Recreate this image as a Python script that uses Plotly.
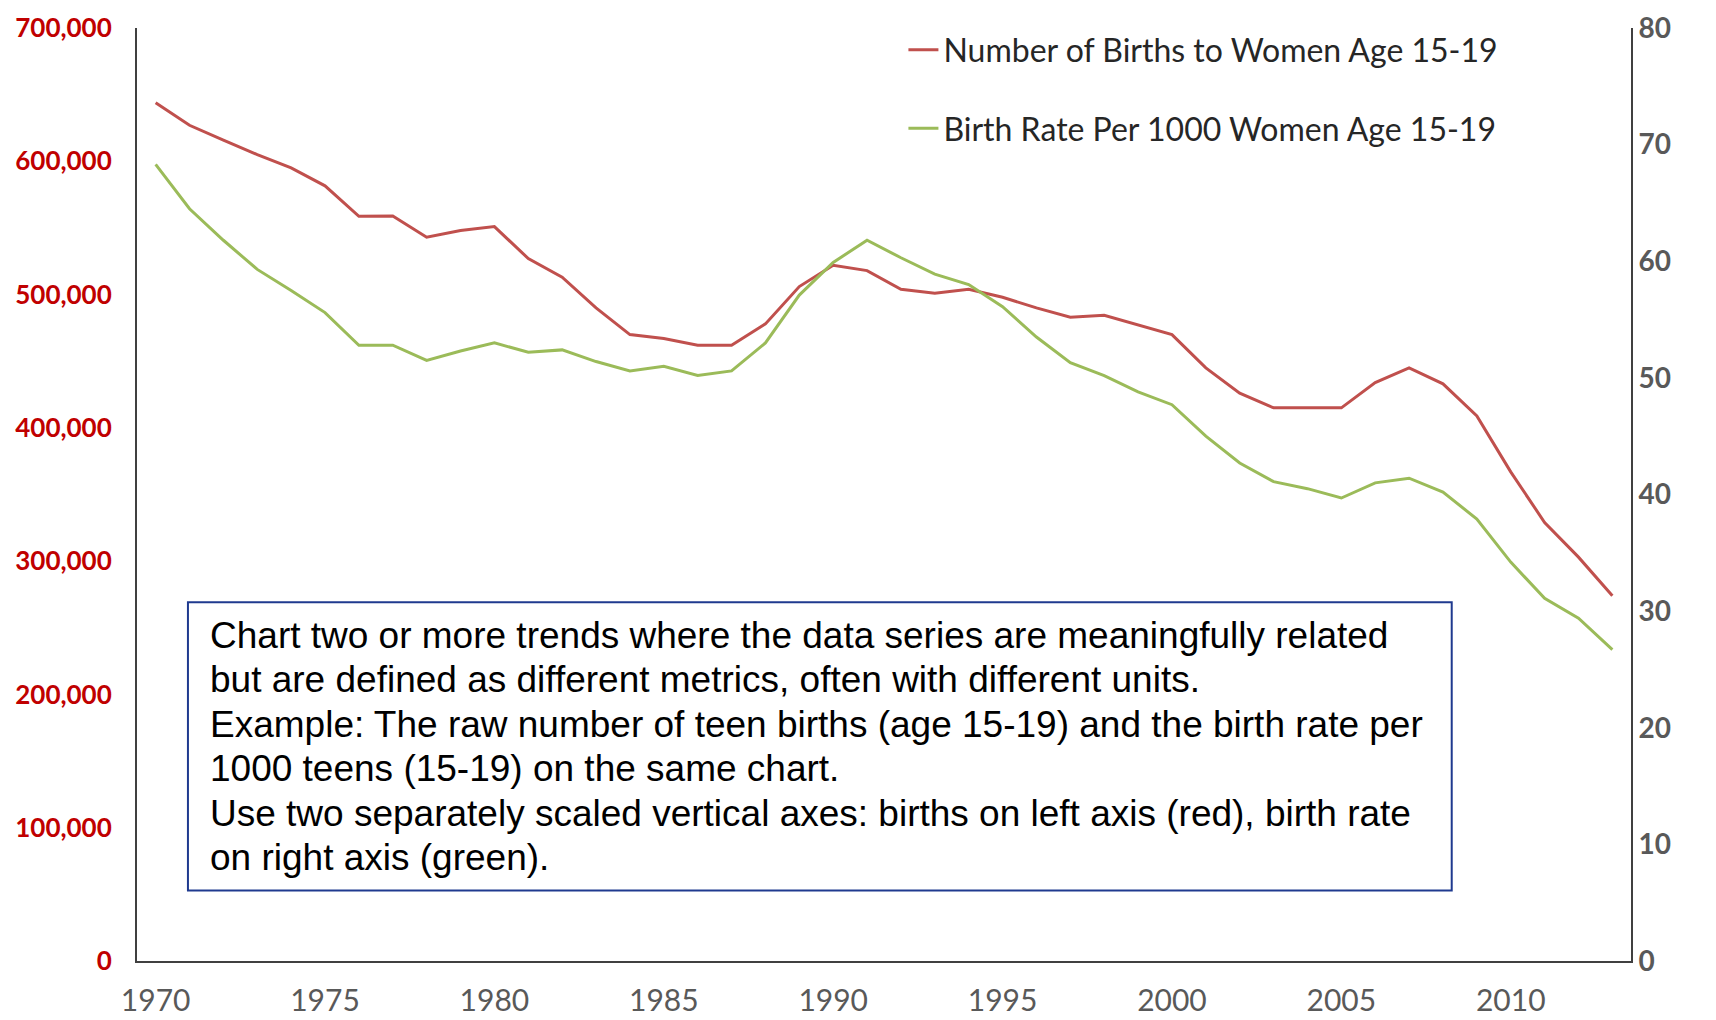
import plotly.graph_objects as go

years = list(range(1970, 2014))
births = [644000, 627000, 615800, 605000, 595000, 581600, 558700, 559000, 543000, 548000,
          551000, 527000, 513000, 490000, 470000, 467000, 462000, 462000, 478000, 506000,
          522000, 518000, 504000, 501000, 504000, 498000, 490000, 483000, 484500, 477000,
          470000, 445000, 426000, 415000, 415000, 415000, 434000, 445000, 433000, 409000,
          367000, 329000, 303000, 274000]
rate = [68.3, 64.5, 61.8, 59.3, 57.5, 55.6, 52.8, 52.8, 51.5, 52.3,
        53.0, 52.2, 52.4, 51.4, 50.6, 51.0, 50.2, 50.6, 53.0, 57.1,
        59.9, 61.8, 60.3, 58.9, 58.0, 56.1, 53.5, 51.3, 50.2, 48.8,
        47.7, 45.0, 42.7, 41.1, 40.5, 39.7, 41.0, 41.4, 40.2, 37.9,
        34.2, 31.1, 29.4, 26.7]

left_ticks = [0, 100000, 200000, 300000, 400000, 500000, 600000, 700000]
right_ticks = [0, 10, 20, 30, 40, 50, 60, 70, 80]
x_ticks = [1970, 1975, 1980, 1985, 1990, 1995, 2000, 2005, 2010]

name_births = "Number of Births to Women Age 15-19"
name_rate = "Birth Rate Per 1000 Women Age 15-19"
note_lines = [
    "Chart two or more trends where the data series are meaningfully related",
    "but are defined as different metrics, often with different units.",
    "Example: The raw number of teen births (age 15-19) and the birth rate per",
    "1000 teens (15-19) on the same chart.",
    "Use two separately scaled vertical axes: births on left axis (red), birth rate",
    "on right axis (green).",
]

RED = "#C0504D"
GREEN = "#9BBB59"
AXIS = "#404040"

fig = go.Figure()
fig.add_trace(go.Scatter(x=years, y=births, name=name_births, mode="lines",
                         line=dict(color=RED, width=3), yaxis="y", legendgroup="a"))
fig.add_trace(go.Scatter(x=years, y=rate, name=name_rate, mode="lines",
                         line=dict(color=GREEN, width=3), yaxis="y2", legendgroup="b"))

fig.update_layout(
    width=1708, height=1012,
    margin=dict(l=129, r=85, t=20, b=59, autoexpand=False),
    paper_bgcolor="white", plot_bgcolor="white",
    showlegend=True,
    legend=dict(x=0.513, y=1.006, xanchor="left", yanchor="top",
                font=dict(family="Lato", size=32, color="#262626"),
                tracegroupgap=34, bgcolor="rgba(0,0,0,0)"),
    xaxis=dict(range=[1969.45, 2013.55], tickvals=x_ticks, ticktext=[str(v) for v in x_ticks],
               showgrid=False, zeroline=False, showline=True, linecolor=AXIS, linewidth=2,
               ticks="", ticklabelstandoff=12, automargin=False, ticklabeloverflow="allow",
               tickfont=dict(family="Lato", size=30, color="#595959")),
    yaxis=dict(range=[0, 700000], tickvals=left_ticks,
               ticktext=[f"{v:,}" for v in left_ticks],
               showgrid=False, zeroline=False, showline=True, linecolor=AXIS, linewidth=2,
               ticks="", ticklabelstandoff=18, automargin=False, ticklabeloverflow="allow",
               tickfont=dict(family="Lato", size=26, color="#C00000", weight="bold")),
    yaxis2=dict(range=[0, 80], tickvals=right_ticks, ticktext=[str(v) for v in right_ticks],
                overlaying="y", side="right",
                showgrid=False, zeroline=False, showline=True, linecolor=AXIS, linewidth=2,
                ticks="", ticklabelstandoff=0, automargin=False, ticklabeloverflow="allow",
                tickfont=dict(family="Lato", size=28, color="#595959", weight="bold")),
)

fig.add_shape(type="rect", xref="paper", yref="paper",
              x0=0.0341, x1=0.880, y0=0.0756, y1=0.3845,
              line=dict(color="#1F3A8F", width=2), fillcolor="white", layer="above")

line_gap = 0.0477
top_line_y = 0.349
for i, txt in enumerate(note_lines):
    fig.add_annotation(xref="paper", yref="paper", x=0.0475, y=top_line_y - i * line_gap,
                       xanchor="left", yanchor="middle", align="left", showarrow=False,
                       text=txt,
                       font=dict(family="Liberation Sans", size=37, color="black"))

fig.write_html("out.html")
